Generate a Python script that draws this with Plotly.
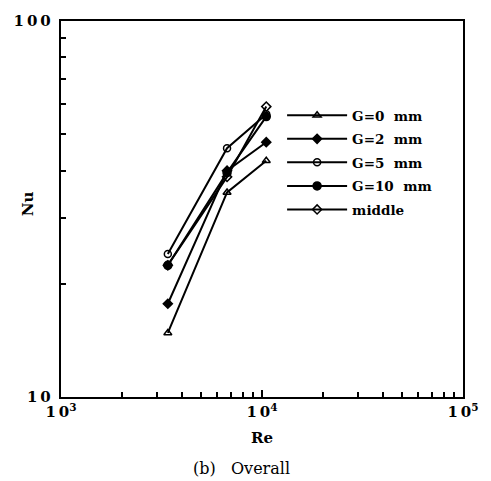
import plotly.graph_objects as go

re_vals = [3400, 6700, 10500]
nu_g0 = [14.8, 35.0, 42.5]
nu_g2 = [17.7, 40.0, 47.6]
nu_g5 = [24.0, 45.9, 56.5]
nu_g10 = [22.4, 39.5, 55.7]
nu_mid = [22.4, 38.5, 59.2]

series_names = ["G=0  mm", "G=2  mm", "G=5  mm", "G=10  mm", "middle"]
series_vals = [nu_g0, nu_g2, nu_g5, nu_g10, nu_mid]
symbols = ["triangle-up-open", "diamond", "circle-open", "circle", "diamond-open"]
sizes = [7, 7, 7, 8, 7]

x_tickvals = [1e3, 1e4, 1e5]
x_ticktext = ["<b>1\u20090<sup>3</sup></b>", "<b>1\u20090<sup>4</sup></b>", "<b>1\u20090<sup>5</sup></b>"]
y_tickvals = [10, 100]
y_ticktext = ["<b>1\u20090 </b>", "<b>1\u20090\u20090 </b>"]
x_minor = [k * 1000 for k in range(2, 10)] + [k * 10000 for k in range(2, 10)]
y_minor = [k * 10 for k in range(2, 10)]

serif = "DejaVu Serif"

fig = go.Figure()
for i, (name, vals, sym, sz) in enumerate(zip(series_names, series_vals, symbols, sizes)):
    fig.add_trace(go.Scatter(
        x=re_vals, y=vals, mode="lines+markers", name="<b>" + name + "</b>",
        legendgroup=f"g{i}",
        line=dict(color="black", width=2),
        marker=dict(symbol=sym, size=sz, color="black",
                    line=dict(color="black", width=1.5)),
    ))

axis_common = dict(
    showgrid=False, zeroline=False, showline=True, linecolor="black",
    linewidth=2, mirror=True, ticks="inside", ticklen=7, tickcolor="black",
    tickwidth=2,
)

fig.update_xaxes(
    type="log", range=[3, 5], tickmode="array", tickvals=x_tickvals,
    ticktext=x_ticktext,
    tickfont=dict(family=serif, size=15, color="black"),
    title=dict(text="<b>Re</b>", font=dict(family=serif, size=15, color="black"),
               standoff=12),
    minor=dict(tickmode="array", tickvals=x_minor, ticks="inside", ticklen=5,
               tickcolor="black", tickwidth=1.5, showgrid=False),
    **axis_common,
)
fig.update_yaxes(
    type="log", range=[1, 2], tickmode="array", tickvals=y_tickvals,
    ticktext=y_ticktext,
    tickfont=dict(family=serif, size=15, color="black"),
    minor=dict(tickmode="array", tickvals=y_minor, ticks="inside", ticklen=5,
               tickcolor="black", tickwidth=1.5, showgrid=False),
    **axis_common,
)

fig.update_layout(
    width=491, height=481,
    margin=dict(l=61, r=21, t=15, b=84),
    paper_bgcolor="white", plot_bgcolor="white",
    showlegend=True,
    legend=dict(
        x=0.55, y=0.79, xanchor="left", yanchor="top",
        font=dict(family=serif, size=13.5, color="black"),
        bgcolor="rgba(0,0,0,0)", tracegroupgap=3, itemwidth=60,
    ),
    annotations=[
        dict(text="(b)   Overall", xref="paper", yref="paper", x=0.45, y=-0.16,
             xanchor="center", yanchor="top", showarrow=False,
             font=dict(family=serif, size=16, color="black")),
        dict(text="<b>Nu</b>", xref="paper", yref="paper", x=-0.08, y=0.515,
             xanchor="center", yanchor="middle", showarrow=False, textangle=-90,
             font=dict(family=serif, size=15, color="black")),
    ],
)

fig.write_html("out.html")
